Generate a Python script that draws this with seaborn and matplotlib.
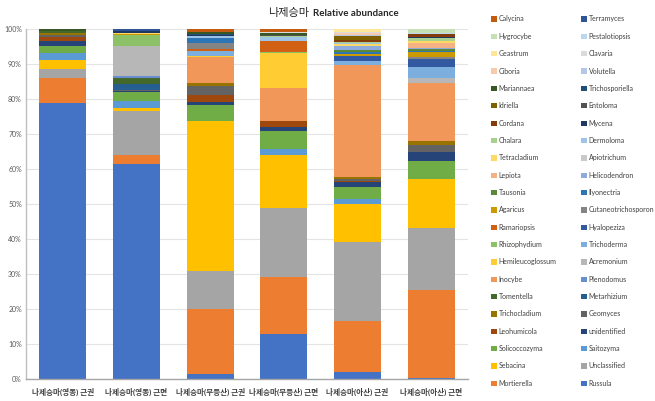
import numpy as np
import pandas as pd
import matplotlib
matplotlib.use("Agg")
import matplotlib.pyplot as plt
from matplotlib.patches import Patch
import seaborn as sns

sns.set_theme(style="whitegrid")
plt.rcParams['font.family'] = ['Lato', 'Noto Sans CJK KR', 'DejaVu Sans']

# samples (x categories)
samples = ["나제승마(영동) 근권", "나제승마(영동) 근면", "나제승마(무등산) 근권",
           "나제승마(무등산) 근면", "나제승마(아산) 근권", "나제승마(아산) 근면"]

# genera, bottom of the stack first
genera = ["Russula", "Mortierella", "Unclassified", "Sebacina", "Saitozyma",
          "Solicoccozyma", "unidentified", "Leohumicola", "Geomyces", "Trichocladium",
          "Metarhizium", "Tomentella", "Plenodomus", "Inocybe", "Acremonium",
          "Hemileucoglossum", "Trichoderma", "Rhizophydium", "Hyalopeziza", "Ramariopsis",
          "Cutaneotrichosporon", "Agaricus", "Ilyonectria", "Tausonia", "Helicodendron",
          "Lepiota", "Apiotrichum", "Tetracladium", "Dermoloma", "Chalara",
          "Mycena", "Cordana", "Entoloma", "Idriella", "Trichosporiella",
          "Mariannaea", "Volutella", "Ciboria", "Clavaria", "Geastrum",
          "Pestalotiopsis", "Hygrocybe", "Terramyces", "Calycina"]

colors = ["#4472C4", "#ED7D31", "#A5A5A5", "#FFC000", "#5B9BD5", "#70AD47",
          "#264478", "#9E480E", "#636363", "#997300", "#255E91", "#43682B",
          "#698ED0", "#F1975A", "#B7B7B7", "#FFCD33", "#7CAFDD", "#8CC168",
          "#335AA1", "#D26012", "#848484", "#CC9A00", "#2E75B6", "#5A8A39",
          "#8FAADC", "#F4B183", "#C9C9C9", "#FFD966", "#9DC3E6", "#A9D18E",
          "#203864", "#843C0C", "#525252", "#7F6000", "#1F4E79", "#385723",
          "#B4C7E7", "#F8CBAD", "#DBDBDB", "#FFE699", "#BDD7EE", "#C5E0B4",
          "#2F5597", "#C55A11"]

# relative abundance (%) per sample, same order as genera
yd_root = [78.9, 7.2, 2.5, 2.6, 2.1, 1.9, 1.4, 1.2, 0.6, 0.4, 0, 0.6, 0, 0, 0,
           0, 0.1, 0, 0.1, 0, 0, 0, 0, 0, 0, 0, 0, 0, 0, 0,
           0, 0, 0, 0, 0, 0.4, 0, 0, 0, 0, 0, 0, 0, 0]
yd_rhizo = [61.4, 2.7, 12.6, 0.9, 1.8, 2.6, 0.3, 0, 0.3, 0.2, 1.6, 1.7, 0.5, 0, 8.6,
            0, 0, 3.2, 0, 0, 0, 0.3, 0, 0, 0, 0, 0, 0.3, 0, 0,
            0.4, 0, 0, 0, 0, 0, 0, 0.2, 0, 0, 0, 0, 0.4, 0]
md_root = [1.5, 18.5, 11.0, 42.8, 0, 4.5, 0.9, 2.0, 2.6, 0.8, 0, 0, 0, 7.6, 0,
           0.3, 1.2, 0, 0, 0.7, 1.6, 0.2, 1.4, 0, 0, 0, 0, 0, 0.4, 0,
           0.3, 0, 0, 0, 0.4, 0.6, 0, 0, 0, 0, 0, 0, 0, 0.7]
md_rhizo = [12.9, 16.4, 19.7, 15.1, 1.8, 5.0, 1.2, 1.7, 0, 0, 0, 0, 0, 9.5, 0,
            9.8, 0, 0.3, 0, 3.2, 0, 0, 0, 0.2, 0, 0, 0, 0, 1.1, 0.2,
            0, 0, 0.4, 0, 0, 0.5, 0, 0, 0.3, 0, 0, 0, 0, 0.7]
as_root = [2.2, 14.6, 22.3, 10.9, 1.4, 3.5, 1.5, 0.4, 0.5, 0.5, 0, 0, 0, 32.0, 0,
           0, 1.1, 0, 1.6, 0, 0, 0.4, 0.5, 0.8, 0.9, 0.2, 0, 0.4, 0.4, 0.2,
           0.2, 0.4, 0, 1.1, 0, 0, 0.4, 0.6, 0.3, 0.7, 0, 0, 0, 0]
as_rhizo = [0.5, 25.1, 17.7, 13.8, 0, 5.3, 2.5, 0, 2.0, 1.2, 0, 0, 0, 16.6, 1.4,
            0, 3.0, 0, 2.4, 0, 0.5, 1.5, 0.3, 0.6, 0.3, 1.3, 0.2, 0.4, 0.2, 0.6,
            0.4, 0.8, 0, 0, 0, 0, 0.2, 0, 0, 0, 0.2, 1.0, 0, 0]

values = [yd_root, yd_rhizo, md_root, md_rhizo, as_root, as_rhizo]

# long table with cumulative tops (100% stacked)
rows = []
for s, v in zip(samples, values):
    v = np.array(v, dtype=float)
    cum = np.cumsum(v) / v.sum() * 100
    for g, c in zip(genera, cum):
        rows.append({"sample": s, "genus": g, "cum": c})
df = pd.DataFrame(rows)

fig = plt.figure(figsize=(6.55, 4.01), dpi=100)
ax = fig.add_axes([26 / 655, 1 - 379.3 / 401, 442 / 655, 350 / 401])

# draw the tallest cumulative bars first, lower ones overlap them
for g, col in reversed(list(zip(genera, colors))):
    sns.barplot(data=df[df["genus"] == g], x="sample", y="cum", order=samples,
                color=col, saturation=1, width=0.64, errorbar=None,
                linewidth=0, ax=ax)

ax.set_ylim(0, 100)
ax.set_yticks(np.arange(0, 101, 10))
ax.set_yticklabels([f"{t}%" for t in range(0, 101, 10)], fontsize=5, color="#595959")
ax.tick_params(axis="x", labelsize=5.5, colors="#404040", pad=6, length=0)
ax.tick_params(axis="y", pad=3, length=0)
for lab in ax.get_xticklabels():
    lab.set_fontweight("bold")
ax.set_xlabel("")
ax.set_ylabel("")
ax.grid(axis="y", color="#E4E4E4", linewidth=0.8)
ax.grid(axis="x", visible=False)
ax.set_axisbelow(True)
for side in ["top", "right"]:
    ax.spines[side].set_visible(False)
ax.spines["left"].set_color("#BFBFBF")
ax.spines["left"].set_linewidth(1.0)
ax.spines["bottom"].set_color("#A6A6A6")
ax.spines["bottom"].set_linewidth(1.0)

# title: korean part + bold english part
fig.text(309 / 655, 0.968, "나제승마", ha="right", va="center", fontsize=8,
         family=["Noto Sans CJK KR"], color="#262626")
fig.text(313 / 655, 0.966, "Relative abundance", ha="left", va="center", fontsize=7,
         fontweight="bold", color="#262626")

# legend, two columns, reversed order like the original
rev = list(zip(genera, colors))[::-1]
left_col = rev[0::2]
right_col = rev[1::2]
for col_items, xpos in [(left_col, 491 / 655), (right_col, 581 / 655)]:
    handles = [Patch(facecolor=c, edgecolor="none") for _, c in col_items]
    labels = [g for g, _ in col_items]
    leg = fig.legend(handles, labels, loc="upper left", bbox_to_anchor=(xpos, 1 - 15.5 / 401),
                     frameon=False, fontsize=5, handlelength=0.8, handleheight=0.8,
                     handletextpad=0.3, labelspacing=1.49, borderaxespad=0, borderpad=0)
    for t in leg.get_texts():
        t.set_color("#404040")

fig.savefig("out.png", dpi=100)
